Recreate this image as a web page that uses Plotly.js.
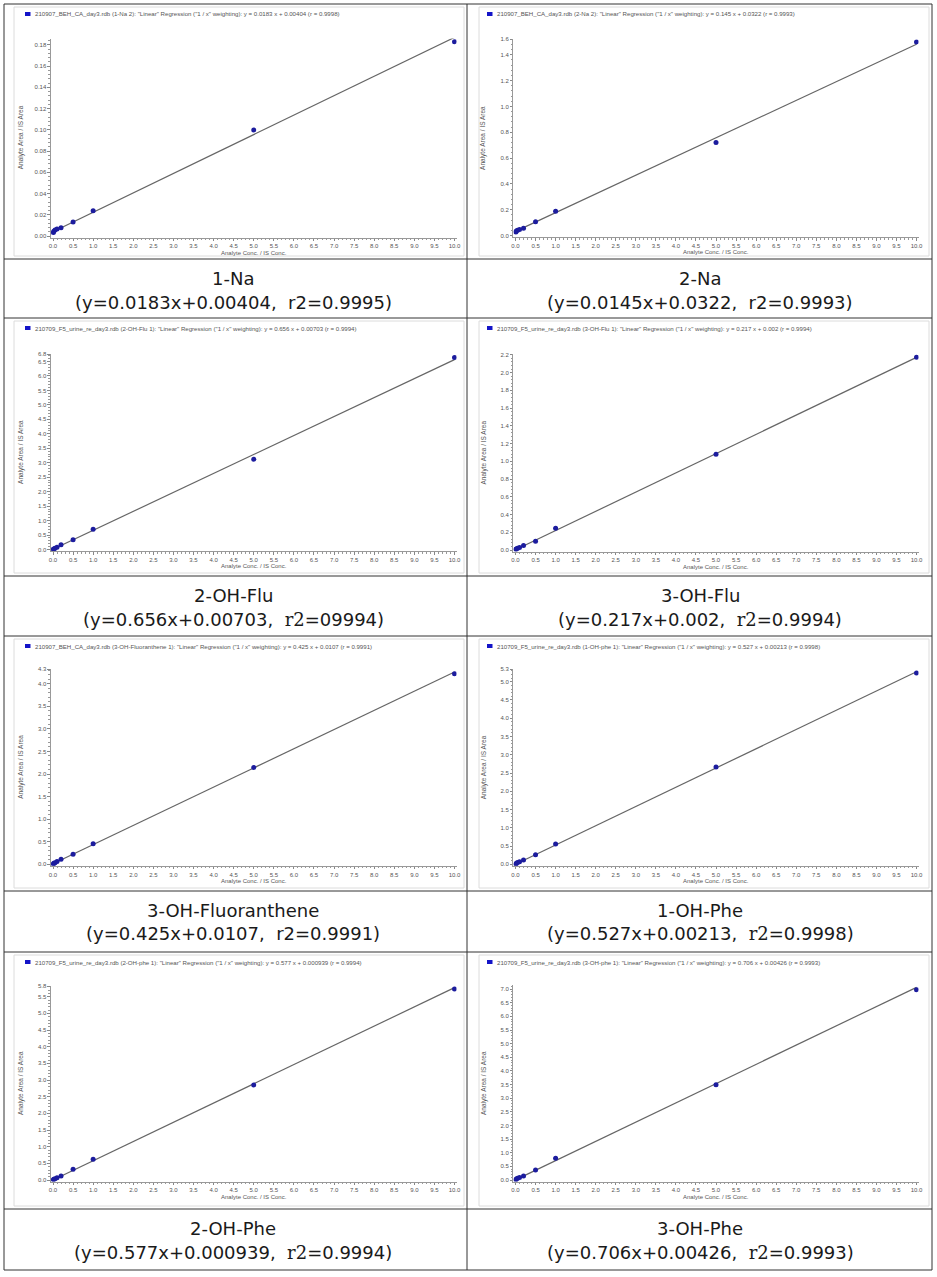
<!DOCTYPE html>
<html><head><meta charset="utf-8">
<script src="https://cdn.plot.ly/plotly-3.0.1.min.js"></script>
<style>html,body{margin:0;padding:0;background:#fff;} #chart{width:937px;height:1277px;}</style>
</head><body><div id="chart"></div>
<script>
// ---------------- data ----------------
const compounds = ["1-Na","2-Na","2-OH-Flu","3-OH-Flu","3-OH-Fluoranthene","1-OH-Phe","2-OH-Phe","3-OH-Phe"];
const captionEq = [
  "(y=0.0183x+0.00404,  r2=0.9995)",
  "(y=0.0145x+0.0322,  r2=0.9993)",
  "(y=0.656x+0.00703,  r2=09994)",
  "(y=0.217x+0.002,  r2=0.9994)",
  "(y=0.425x+0.0107,  r2=0.9991)",
  "(y=0.527x+0.00213,  r2=0.9998)",
  "(y=0.577x+0.000939,  r2=0.9994)",
  "(y=0.706x+0.00426,  r2=0.9993)"
];
const legendTexts = [
  '210907_BEH_CA_day3.rdb (1-Na 2): "Linear" Regression ("1 / x" weighting): y = 0.0183 x + 0.00404 (r = 0.9998)',
  '210907_BEH_CA_day3.rdb (2-Na 2): "Linear" Regression ("1 / x" weighting): y = 0.145 x + 0.0322 (r = 0.9993)',
  '210709_F5_urine_re_day3.rdb (2-OH-Flu 1): "Linear" Regression ("1 / x" weighting): y = 0.656 x + 0.00703 (r = 0.9994)',
  '210709_F5_urine_re_day3.rdb (3-OH-Flu 1): "Linear" Regression ("1 / x" weighting): y = 0.217 x + 0.002 (r = 0.9994)',
  '210907_BEH_CA_day3.rdb (3-OH-Fluoranthene 1): "Linear" Regression ("1 / x" weighting): y = 0.425 x + 0.0107 (r = 0.9991)',
  '210709_F5_urine_re_day3.rdb (1-OH-phe 1): "Linear" Regression ("1 / x" weighting): y = 0.527 x + 0.00213 (r = 0.9998)',
  '210709_F5_urine_re_day3.rdb (2-OH-phe 1): "Linear" Regression ("1 / x" weighting): y = 0.577 x + 0.000939 (r = 0.9994)',
  '210709_F5_urine_re_day3.rdb (3-OH-phe 1): "Linear" Regression ("1 / x" weighting): y = 0.706 x + 0.00426 (r = 0.9993)'
];
const concentrations = [0.01, 0.02, 0.05, 0.1, 0.2, 0.5, 1, 5, 10];
const ratio_1Na   = [0.0033, 0.0045, 0.0056, 0.0066, 0.0077, 0.0131, 0.0237, 0.0998, 0.1830];
const ratio_2Na   = [0.028, 0.035, 0.040, 0.047, 0.057, 0.107, 0.188, 0.720, 1.500];
const ratio_2OHFlu = [0.010, 0.020, 0.040, 0.080, 0.160, 0.340, 0.700, 3.120, 6.640];
const ratio_3OHFlu = [0.008, 0.012, 0.019, 0.028, 0.052, 0.098, 0.244, 1.079, 2.173];
const ratio_3OHFla = [0.007, 0.022, 0.037, 0.060, 0.111, 0.222, 0.458, 2.144, 4.220];
const ratio_1OHPhe = [0.003, 0.027, 0.046, 0.073, 0.119, 0.262, 0.559, 2.665, 5.240];
const ratio_2OHPhe = [0.010, 0.020, 0.040, 0.070, 0.120, 0.320, 0.620, 2.850, 5.730];
const ratio_3OHPhe = [0.010, 0.040, 0.060, 0.090, 0.150, 0.370, 0.800, 3.490, 6.980];
const ratios = [ratio_1Na, ratio_2Na, ratio_2OHFlu, ratio_3OHFlu, ratio_3OHFla, ratio_1OHPhe, ratio_2OHPhe, ratio_3OHPhe];
const slopes = [0.0183, 0.145, 0.656, 0.217, 0.425, 0.527, 0.577, 0.706];
const intercepts = [0.00404, 0.0322, 0.00703, 0.002, 0.0107, 0.00213, 0.000939, 0.00426];
// axis tick labels
const xTickLabels = ["0.0","0.5","1.0","1.5","2.0","2.5","3.0","3.5","4.0","4.5","5.0","5.5","6.0","6.5","7.0","7.5","8.0","8.5","9.0","9.5","10.0"];
const yTickStep = [0.02, 0.2, 0.5, 0.2, 0.5, 0.5, 0.5, 0.5];
const yTickLast = [0.18, 1.4, 6.5, 2.2, 4.0, 5.0, 5.5, 7.0];
const yAxisMax  = [0.186, 1.52, 6.75, 2.21, 4.32, 5.34, 5.82, 7.15];
const yTopLabel = [null, "1.6", "6.8", null, "4.3", "5.3", "5.8", null];
const yDecimals = [2, 1, 1, 1, 1, 1, 1, 1];
const xAxisTitle = "Analyte Conc. / IS Conc.";
const yAxisTitle = "Analyte Area / IS Area";

// ---------------- layout geometry (pixels) ----------------
const W = 937, H = 1277;
const colX0  = [53, 515.5];      // pixel of x = 0
const colX10 = [454.5, 916.5];   // pixel of x = 10
const panelY0   = [236, 235.5, 549.5, 550, 864.3, 864.3, 1180, 1180];  // pixel of y = 0
const panelYTop = [38.5, 39.3, 354.3, 354, 669.3, 669.3, 986, 985];   // pixel of y max
const rowTop = [4, 318, 636, 952];
const rowSplit = [259, 576, 891, 1209];
const rowBottom = [318, 636, 952, 1270];
const colLeft = [4, 467], colRight = [467, 932];
const capCenter = [233, 700];
const serifR2 = [false, false, true, true, false, true, true, true];

const px = v => v / W;
const py = v => 1 - v / H;

const traces = [];
const layout = {
  width: W, height: H, margin: {l:0, r:0, t:0, b:0},
  paper_bgcolor: '#fff', plot_bgcolor: '#fff', showlegend: false,
  shapes: [], annotations: []
};
const tickFont = {family: 'Liberation Sans, Arial, sans-serif', size: 6, color: '#555'};

for (let i = 0; i < 8; i++) {
  const n = i === 0 ? '' : String(i + 1);
  const col = i % 2, row = Math.floor(i / 2);
  const x0 = colX0[col], x10 = colX10[col];
  const sx = (x10 - x0) / 10;
  const xmin = -0.05, xmax = 10.05;
  const yMax = yAxisMax[i], yMin = -0.008 * yMax;
  const y0 = panelY0[i], yTop = panelYTop[i];
  const sy = (y0 - yTop) / yMax;
  const yBottomPx = y0 - yMin * sy;

  const xMaxConc = Math.max(...concentrations);
  const lineX = [0, xMaxConc];
  const lineY = lineX.map(v => slopes[i] * v + intercepts[i]);
  traces.push({x: lineX, y: lineY, xaxis: 'x' + n, yaxis: 'y' + n, mode: 'lines',
    line: {color: '#666', width: 1.2}, hoverinfo: 'skip'});
  traces.push({x: concentrations, y: ratios[i], xaxis: 'x' + n, yaxis: 'y' + n, mode: 'markers',
    name: compounds[i], marker: {color: '#1c1c9e', size: 5}});

  // y ticks
  const yvals = [], ytext = [];
  const nT = Math.round(yTickLast[i] / yTickStep[i]);
  for (let k = 0; k <= nT; k++) { yvals.push(k * yTickStep[i]); ytext.push((k * yTickStep[i]).toFixed(yDecimals[i])); }
  if (yTopLabel[i]) { yvals.push(yMax); ytext.push(yTopLabel[i]); }

  layout['xaxis' + n] = {
    domain: [px(x0 + xmin * sx), px(x0 + xmax * sx)], range: [xmin, xmax], anchor: 'y' + n,
    tickvals: xTickLabels.map(Number), ticktext: xTickLabels,
    ticks: 'outside', ticklen: 2.5, tickcolor: '#888', tickwidth: 1,
    showline: true, linecolor: '#999', linewidth: 1, showgrid: false, zeroline: false,
    tickfont: tickFont, fixedrange: true,
    minor: {dtick: 0.1, tick0: 0, ticks: 'outside', ticklen: 1.5, tickcolor: '#999', showgrid: false}
  };
  layout['yaxis' + n] = {
    domain: [py(yBottomPx), py(yTop)], range: [yMin, yMax], anchor: 'x' + n,
    tickvals: yvals, ticktext: ytext,
    ticks: 'outside', ticklen: 2.5, tickcolor: '#888', tickwidth: 1,
    showline: true, linecolor: '#999', linewidth: 1, showgrid: false, zeroline: false,
    tickfont: tickFont, fixedrange: true,
    minor: {dtick: yTickStep[i] / 5, tick0: 0, ticks: 'outside', ticklen: 1.5, tickcolor: '#999', showgrid: false}
  };

  // axis titles
  layout.annotations.push({xref: 'paper', yref: 'paper', x: px((x0 + x10) / 2), y: py(y0 + 16.5),
    text: xAxisTitle, showarrow: false, xanchor: 'center', yanchor: 'middle',
    font: {family: 'Liberation Sans, Arial, sans-serif', size: 6, color: '#555'}});
  layout.annotations.push({xref: 'paper', yref: 'paper', x: px(x0 - 32), y: py((y0 + yTop) / 2),
    text: yAxisTitle, showarrow: false, textangle: -90, xanchor: 'center', yanchor: 'middle',
    font: {family: 'Liberation Sans, Arial, sans-serif', size: 6.5, color: '#555'}});

  // legend (square + text)
  const legY = rowTop[row] + 10;
  const sqL = colLeft[col] + (col === 0 ? 21 : 20);
  layout.shapes.push({type: 'rect', xref: 'paper', yref: 'paper',
    x0: px(sqL), x1: px(sqL + 5.5), y0: py(legY - 2), y1: py(legY + 2),
    fillcolor: '#1414c8', line: {width: 0}});
  layout.annotations.push({xref: 'paper', yref: 'paper', x: px(sqL + 8), y: py(legY),
    text: legendTexts[i], showarrow: false, xanchor: 'left', yanchor: 'middle',
    font: {family: 'Liberation Sans, Arial, sans-serif', size: 6.1, color: '#555'}});

  // light chart frame
  layout.shapes.push({type: 'rect', xref: 'paper', yref: 'paper',
    x0: px(colLeft[col] + (col === 0 ? 10 : 12)), x1: px(colRight[col] - 3),
    y0: py(rowSplit[row] - 3), y1: py(rowTop[row] + 3),
    line: {color: '#dcdcdc', width: 1}, fillcolor: 'rgba(0,0,0,0)', layer: 'below'});

  // captions
  const nameY = rowSplit[row] + 19, eqY = rowSplit[row] + 43;
  layout.annotations.push({xref: 'paper', yref: 'paper', x: px(capCenter[col]), y: py(nameY),
    text: compounds[i], showarrow: false, xanchor: 'center', yanchor: 'middle',
    font: {family: 'DejaVu Sans, sans-serif', size: 18, color: '#1a1a1a'}});
  let eq = captionEq[i];
  if (serifR2[i]) eq = eq.replace('r2', '<span style="font-family:\'DejaVu Serif\'">r2</span>');
  layout.annotations.push({xref: 'paper', yref: 'paper', x: px(capCenter[col]), y: py(eqY),
    text: eq, showarrow: false, xanchor: 'center', yanchor: 'middle',
    font: {family: 'DejaVu Sans, sans-serif', size: 18, color: '#1a1a1a'}});
}

// table lines
const lineStyle = {color: '#333', width: 1};
function hline(y, xa, xb) { layout.shapes.push({type: 'line', xref: 'paper', yref: 'paper', x0: px(xa), x1: px(xb), y0: py(y), y1: py(y), line: lineStyle}); }
function vline(x, ya, yb) { layout.shapes.push({type: 'line', xref: 'paper', yref: 'paper', x0: px(x), x1: px(x), y0: py(ya), y1: py(yb), line: lineStyle}); }
hline(4, 4, 932);
for (let r = 0; r < 4; r++) { hline(rowSplit[r], 4, 932); hline(rowBottom[r], 4, 932); }
vline(4, 4, 1270); vline(467, 4, 1270); vline(932, 4, 1270);

Plotly.newPlot('chart', traces, layout, {staticPlot: true, displayModeBar: false});
</script>
</body></html>
